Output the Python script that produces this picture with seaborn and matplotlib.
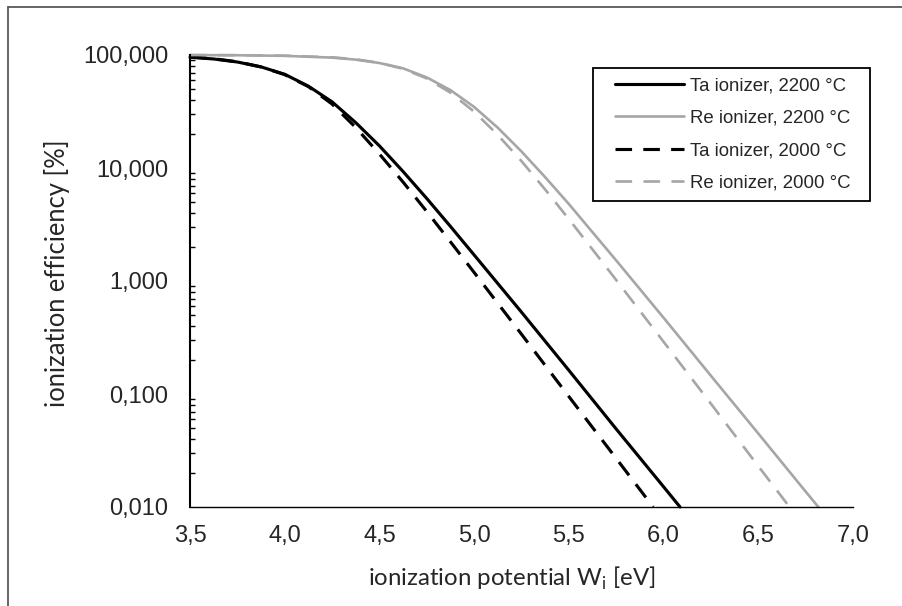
import numpy as np
import pandas as pd
import matplotlib
matplotlib.use('Agg')
import matplotlib.pyplot as plt
import seaborn as sns
from matplotlib.lines import Line2D
from matplotlib.legend_handler import HandlerLine2D
from matplotlib.ticker import FixedLocator, FuncFormatter, LogLocator, NullFormatter

# ionization potential W_i [eV] and efficiency [%]
ta_2200_w = [3.5, 3.625, 3.75, 3.875, 4.0, 4.125, 4.25, 4.375, 4.5, 4.625, 4.75, 4.875,
             5.0, 5.25, 5.5, 5.75, 6.0, 6.087]
ta_2200_eff = [95.5, 92.2, 86.7, 78.5, 67.5, 53.0, 38.5, 25.2, 15.7, 9.3, 5.37, 3.04,
               1.70, 0.53, 0.162, 0.049, 0.0151, 0.010]

re_2200_w = [3.5, 3.75, 4.0, 4.25, 4.375, 4.5, 4.625, 4.75, 4.875, 5.0, 5.125, 5.25,
             5.375, 5.5, 5.625, 5.75, 6.0, 6.25, 6.5, 6.75, 6.817]
re_2200_eff = [99.8, 99.5, 98.3, 94.8, 91.0, 84.9, 76.2, 63.3, 48.9, 34.7, 22.7, 14.0,
               8.29, 4.8, 2.70, 1.52, 0.473, 0.145, 0.0447, 0.0137, 0.010]

ta_2000_w = [3.5, 3.625, 3.75, 3.875, 4.0, 4.125, 4.25, 4.375, 4.5, 4.625, 4.75, 4.875,
             5.0, 5.25, 5.5, 5.75, 5.945]
ta_2000_eff = [96.0, 92.7, 87.1, 78.4, 67.0, 52.5, 36.8, 22.8, 13.3, 7.5, 4.12, 2.22,
               1.19, 0.338, 0.095, 0.0269, 0.010]

re_2000_w = [3.5, 3.75, 4.0, 4.25, 4.375, 4.5, 4.625, 4.75, 4.875, 5.0, 5.125, 5.25,
             5.375, 5.5, 5.625, 5.75, 6.0, 6.25, 6.5, 6.665]
re_2000_eff = [99.9, 99.6, 98.6, 95.4, 91.6, 85.3, 75.5, 62.0, 46.4, 31.5, 19.6, 11.5,
               6.45, 3.53, 1.90, 1.02, 0.29, 0.082, 0.023, 0.010]

labels = ['Ta ionizer, 2200 °C', 'Re ionizer, 2200 °C',
          'Ta ionizer, 2000 °C', 'Re ionizer, 2000 °C']
x_ticks = [3.5, 4.0, 4.5, 5.0, 5.5, 6.0, 6.5, 7.0]
y_ticks = [0.01, 0.1, 1, 10, 100]

sns.set_style('white')
plt.rcParams['font.family'] = ['Liberation Sans', 'DejaVu Sans']
plt.rcParams['mathtext.fontset'] = 'custom'
plt.rcParams['mathtext.rm'] = 'Lato'

GRAY = '#a6a6a6'

fig = plt.figure(figsize=(9.03, 6.06), dpi=100)
ax = fig.add_axes([190 / 903, 1 - 507 / 606, 663 / 903, 452 / 606])

series = [
    (ta_2200_w, ta_2200_eff, 'black', '-', 2.25),
    (re_2200_w, re_2200_eff, GRAY, '-', 1.9),
    (ta_2000_w, ta_2000_eff, 'black', (0, (5.3, 3.6)), 2.25),
    (re_2000_w, re_2000_eff, GRAY, (0, (6.3, 4.3)), 1.9),
]
for (w, eff, col, ls, lw), lab in zip(series, labels):
    df = pd.DataFrame({'W': w, 'eff': eff})
    sns.lineplot(data=df, x='W', y='eff', ax=ax, color=col, linestyle=ls,
                 lw=lw, label=lab, clip_on=False)

ax.set_yscale('log')
ax.set_xlim(3.5, 7.0)
ax.set_ylim(0.01, 100)

ax.xaxis.set_major_locator(FixedLocator(x_ticks))
ax.xaxis.set_major_formatter(FuncFormatter(lambda v, p: f"{v:.1f}".replace('.', ',')))
ax.yaxis.set_major_locator(FixedLocator(y_ticks))
ax.yaxis.set_major_formatter(FuncFormatter(lambda v, p: f"{v:.3f}".replace('.', ',')))
ax.yaxis.set_minor_locator(LogLocator(base=10, subs=np.arange(2, 10)))
ax.yaxis.set_minor_formatter(NullFormatter())

ax.tick_params(axis='x', which='major', direction='in', length=5, width=0.8,
               color='black', labelsize=17, pad=13)
ax.tick_params(axis='y', which='major', direction='inout', length=7, width=1.2,
               color='black', labelsize=17, pad=12)
ax.tick_params(axis='y', which='minor', direction='in', length=3.5, width=1.0,
               color='black', left=True)

for side in ['top', 'right']:
    ax.spines[side].set_visible(False)
ax.spines['left'].set_color('black')
ax.spines['left'].set_linewidth(1.5)
ax.spines['bottom'].set_color('black')
ax.spines['bottom'].set_linewidth(1.0)

ax.set_xlabel(r'ionization potential W$_{\mathregular{i}}$ [eV]', family='Lato', fontsize=17.3)
ax.set_ylabel('ionization efficiency [%]', family='Lato', fontsize=18.4)
ax.xaxis.set_label_coords(0.485, -0.128)
ax.yaxis.set_label_coords(-0.181, 0.518)

handles, _ = ax.get_legend_handles_labels()
leg = ax.legend(handles, [l + '  ' for l in labels], loc='upper left',
                bbox_to_anchor=(593 / 903, 1 - 68 / 606), bbox_transform=fig.transFigure,
                fontsize=13.4, frameon=True, fancybox=False, framealpha=1,
                edgecolor='black', borderpad=0.5, borderaxespad=0,
                handlelength=4.4, handletextpad=0.3, labelspacing=0.83,
                handler_map={h: HandlerLine2D(xpad=0.7) for h in handles})
leg.get_frame().set_linewidth(1.3)

# outer chart-area border (only top and left edges fall inside the image)
fig.add_artist(Line2D([8 / 903, 8 / 903], [0, 1 - 7 / 606], transform=fig.transFigure,
                      color='#595959', lw=1.3))
fig.add_artist(Line2D([8 / 903, 1], [1 - 7 / 606, 1 - 7 / 606], transform=fig.transFigure,
                      color='#595959', lw=1.3))

fig.savefig('out.png', dpi=100)
